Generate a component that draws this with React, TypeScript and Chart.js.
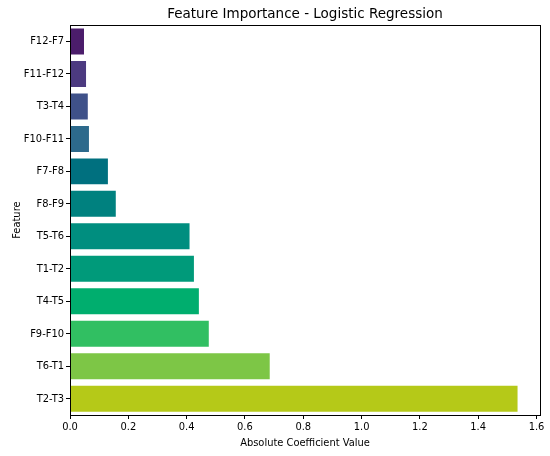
import React, { useEffect, useRef } from "react";
import { Chart, registerables } from "chart.js";

Chart.register(...registerables);

const features = [
  "F12-F7", "F11-F12", "T3-T4", "F10-F11", "F7-F8", "F8-F9",
  "T5-T6", "T1-T2", "T4-T5", "F9-F10", "T6-T1", "T2-T3",
];
const importance = [
  0.048, 0.055, 0.061, 0.065, 0.13, 0.157,
  0.41, 0.425, 0.442, 0.476, 0.685, 1.535,
];
const barColors = [
  "#4b1d6b", "#4c3a80", "#3f5189", "#2d6a8c", "#00707f", "#00817f",
  "#008e7f", "#009a7a", "#00ae6e", "#31bf62", "#7dc646", "#b5c918",
];
const xTicks = [0, 0.2, 0.4, 0.6, 0.8, 1.0, 1.2, 1.4, 1.6];

const framePlugin = {
  id: "frame",
  afterDraw(chart: any) {
    const { ctx, chartArea } = chart;
    ctx.save();
    ctx.strokeStyle = "#000";
    ctx.lineWidth = 1;
    ctx.strokeRect(
      Math.round(chartArea.left) + 0.5,
      Math.round(chartArea.top) + 0.5,
      Math.round(chartArea.right - chartArea.left),
      Math.round(chartArea.bottom - chartArea.top)
    );
    ctx.restore();
  },
};

export default function App() {
  const ref = useRef<HTMLCanvasElement>(null);
  useEffect(() => {
    const font = "'DejaVu Sans Condensed', 'DejaVu Sans', sans-serif";
    const chart = new Chart(ref.current!, {
      type: "bar",
      data: {
        labels: features,
        datasets: [
          {
            data: importance,
            backgroundColor: barColors,
            borderWidth: 0,
            categoryPercentage: 0.8,
            barPercentage: 1,
          },
        ],
      },
      options: {
        indexAxis: "y",
        animation: false,
        responsive: false,
        devicePixelRatio: 1,
        layout: { padding: { left: 11, right: 10, top: 0, bottom: 6 } },
        plugins: {
          legend: { display: false },
          tooltip: { enabled: false },
          title: {
            display: true,
            fullSize: false,
            text: "Feature Importance - Logistic Regression",
            color: "#000",
            font: { family: "'DejaVu Sans', sans-serif", size: 13.5, weight: "normal" },
            padding: { top: 6, bottom: 3 },
          },
        },
        scales: {
          x: {
            type: "linear",
            min: 0,
            max: 1.612,
            afterBuildTicks(scale: any) {
              scale.ticks = xTicks.map((v) => ({ value: v }));
            },
            afterFit(scale: any) {
              scale.height = 35;
            },
            ticks: {
              color: "#000",
              font: { family: font, size: 11 },
              padding: 2,
              callback: (v: any) => Number(v).toFixed(1),
            },
            grid: {
              display: true,
              drawOnChartArea: false,
              tickLength: 4,
              color: "#000",
            },
            border: { display: true, color: "#000" },
            title: {
              display: true,
              text: "Absolute Coefficient Value",
              color: "#000",
              font: { family: font, size: 11 },
              padding: { top: 1, bottom: 0 },
            },
          },
          y: {
            type: "category",
            offset: true,
            afterFit(scale: any) {
              scale.width = 59;
            },
            ticks: {
              color: "#000",
              font: { family: font, size: 11 },
              padding: 2,
            },
            grid: {
              display: true,
              offset: false,
              drawOnChartArea: false,
              tickLength: 4,
              color: "#000",
            },
            border: { display: true, color: "#000" },
            title: {
              display: true,
              text: "Feature",
              color: "#000",
              font: { family: font, size: 11 },
              padding: { top: 0, bottom: 0 },
            },
          },
        },
      },
      plugins: [framePlugin],
    });
    return () => chart.destroy();
  }, []);
  return (
    <div style={{ position: "fixed", left: 0, top: 0, width: 550, height: 456, background: "#fff" }}>
      <canvas ref={ref} width={550} height={456} style={{ width: 550, height: 456 }} />
    </div>
  );
}
